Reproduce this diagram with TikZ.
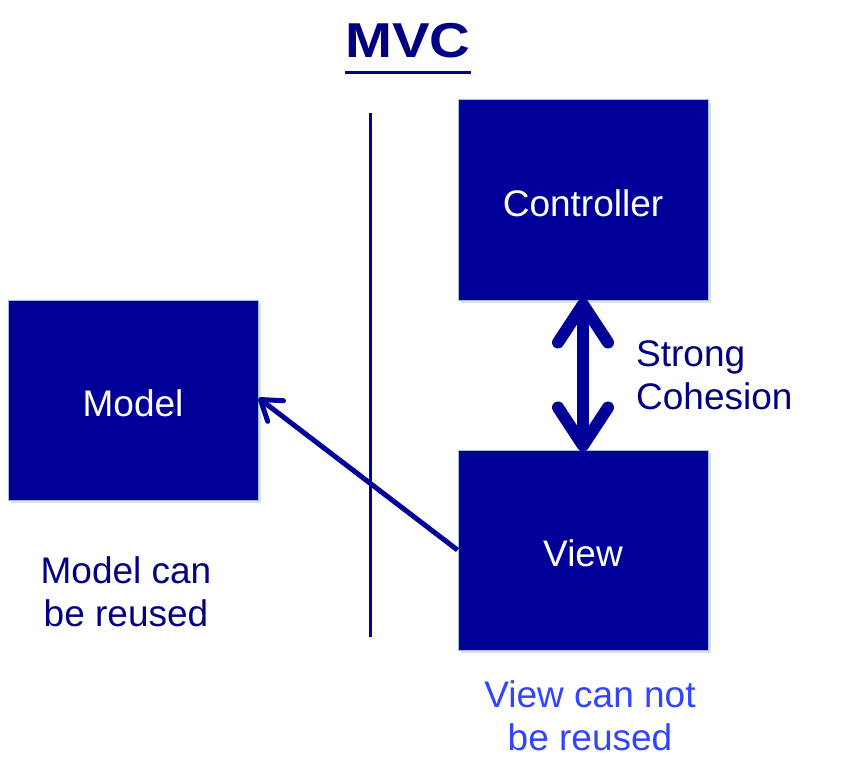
\documentclass[tikz,border=0pt]{standalone}
\usepackage{fontspec}
\setmainfont{Liberation Sans}
\usetikzlibrary{arrows.meta}
\usetikzlibrary{shadows}
\definecolor{mvc-blue}{HTML}{000099}
\definecolor{mvc-navy}{HTML}{000080}
\definecolor{mvc-light}{HTML}{3344FF}
\definecolor{mvc-edge}{HTML}{9CC2D4}

\tikzset{
  mvc box/.style={minimum width=250pt, minimum height=200pt, fill=mvc-blue,
    draw=mvc-edge, line width=1pt, text=white, inner sep=0pt,
    font=\fontsize{37}{43}\selectfont, text height=34pt,
    drop shadow={opacity=0.25, shadow xshift=3pt, shadow yshift=-3pt}},
  mvc note/.style={text=mvc-navy, align=center, inner sep=0pt,
    font=\fontsize{37}{43}\selectfont}
}

\begin{document}
\begin{tikzpicture}[x=1pt, y=-1pt]

    \useasboundingbox[fill=white] (0,0) rectangle (858,770);

    \draw (408,41) 
		node[text=mvc-navy, inner sep=0pt, font=\fontsize{49}{55}\bfseries] 
			(Title) {\scalebox{1.15}[1]{MVC}};
	\draw[mvc-navy, line width=3pt] ([yshift=-15pt]Title.base west) -- ([yshift=-15pt]Title.base east);

    \draw (583,200) 
		node[mvc box] 
			(Controller) {Controller};

    \draw (583,550) 
		node[mvc box] 
			(View) {View};

    \draw (133,400) 
		node[mvc box] 
			(Model) {Model};

    \coordinate (Line top) at (370,113);
    \coordinate (Line bottom) at (370,637);
	\draw[mvc-blue, line width=3pt] (Line top) -- (Line bottom);

	\draw[mvc-blue, line width=12pt, {Straight Barb[length=38pt,width=50pt,round]}-{Straight Barb[length=38pt,width=50pt,round]}] 
		([yshift=2pt]Controller.south) -- ([yshift=-2pt]View.north);

	\draw[mvc-blue, line width=5pt, -{Straight Barb[length=19pt,width=26pt,round]}] 
		(View.west) -- ([yshift=2pt]Model.east);

    \draw (636,375) 
		node[mvc note, anchor=west, align=left] 
			(Cohesion) {Strong\\Cohesion};

    \draw (126,592) 
		node[mvc note] 
			(Model note) {Model can\\be reused};

    \draw (590,716) 
		node[mvc note, text=mvc-light] 
			(View note) {View can not\\be reused};

\end{tikzpicture}
\end{document}
